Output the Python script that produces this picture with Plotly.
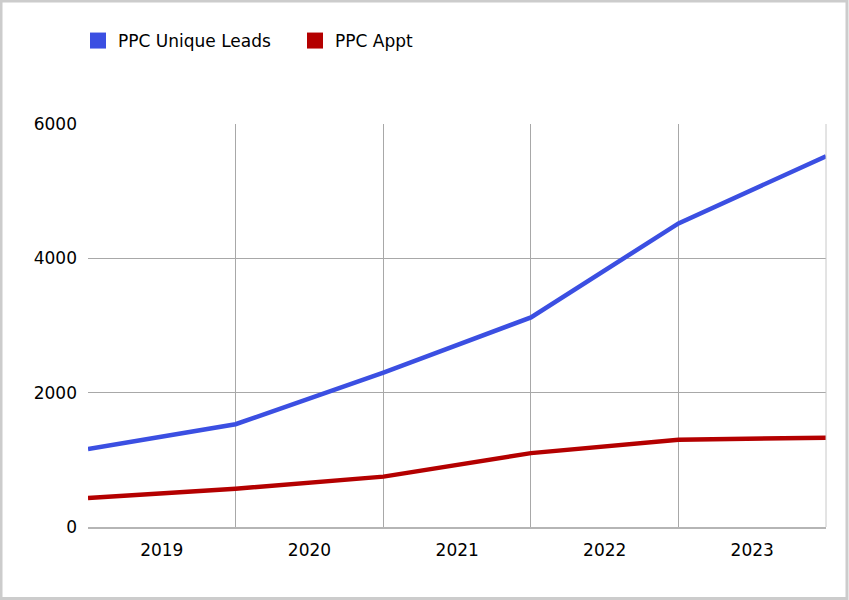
import plotly.graph_objects as go

# Data (values at each year boundary)
dates = ["2019-01-01", "2020-01-01", "2021-01-01", "2022-01-01", "2023-01-01", "2024-01-01"]
ppc_unique_leads = [1160, 1530, 2300, 3120, 4520, 5520]
ppc_appt = [430, 570, 750, 1100, 1300, 1330]
series_names = ["PPC Unique Leads", "PPC Appt"]
series_colors = ["#3b4fe2", "#b40000"]
y_ticks = [0, 2000, 4000, 6000]

W, H = 849, 600
ML, MR, MT, MB = 88, 23, 124, 73
PW, PH = W - ML - MR, H - MT - MB

fig = go.Figure()
for name, vals, col in zip(series_names, [ppc_unique_leads, ppc_appt], series_colors):
    fig.add_trace(go.Scatter(x=dates, y=vals, mode="lines", name=name,
                             line=dict(color=col, width=4.5), showlegend=False,
                             hoverinfo="x+y"))
    # legend-only entry with a square swatch
    fig.add_trace(go.Scatter(x=[None], y=[None], mode="markers", name=name,
                             marker=dict(symbol="square", size=16, color=col),
                             showlegend=True))

font_family = "DejaVu Sans"

def px_to_paper_x(px):
    return (px - ML) / PW

def px_to_paper_y(py):
    return (H - MB - py) / PH

fig.update_layout(
    width=W, height=H,
    margin=dict(l=ML, r=MR, t=MT, b=MB, pad=0),
    paper_bgcolor="white", plot_bgcolor="white",
    font=dict(family=font_family, size=17, color="#000000"),
    legend=dict(orientation="h", x=px_to_paper_x(78), xanchor="left",
                y=px_to_paper_y(41), yanchor="middle",
                font=dict(size=17, color="#000000"), itemclick=False,
                bgcolor="rgba(0,0,0,0)", entrywidth=172, entrywidthmode="pixels"),
    xaxis=dict(type="date", range=[dates[0], dates[-1]], tick0=dates[0], dtick="M12",
               tickformat="%Y", ticklabelmode="period", showgrid=True,
               gridcolor="#a8a8a8", gridwidth=1, showline=True, linecolor="#b5b5b5",
               linewidth=2, ticks="", ticklabelstandoff=7, zeroline=False,
               tickfont=dict(size=17)),
    yaxis=dict(range=[0, 6000], tickvals=y_ticks, showgrid=True, gridcolor="#a8a8a8",
               gridwidth=1, zeroline=False, showline=False, ticks="",
               ticklabelstandoff=10, tickfont=dict(size=17)),
    shapes=[dict(type="rect", xref="paper", yref="paper",
                 x0=px_to_paper_x(1), x1=px_to_paper_x(847),
                 y0=px_to_paper_y(598.5), y1=px_to_paper_y(1),
                 line=dict(color="#cccccc", width=3), fillcolor="rgba(0,0,0,0)",
                 layer="below"),
            dict(type="line", xref="paper", yref="paper", x0=1, x1=1, y0=0, y1=1,
                 line=dict(color="#c8c8c8", width=1))],
)

fig.write_html("out.html", config={"displayModeBar": False},
               post_script="document.body.style.margin='0';document.body.style.overflow='hidden';")
